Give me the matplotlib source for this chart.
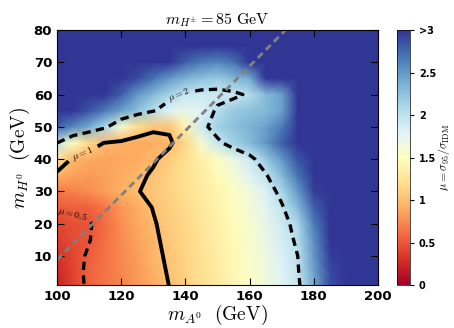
import numpy as np
import matplotlib
matplotlib.use('Agg')
import matplotlib.pyplot as plt

plt.rcParams['mathtext.fontset'] = 'cm'
plt.rcParams['lines.dashed_pattern'] = [2.5, 1.6]

# scan grid (GeV)
m_A0 = [100, 105, 110, 115, 120, 125, 130, 135, 140, 145, 150,
        155, 160, 165, 170, 175, 180, 185, 190, 195, 200]
m_H0 = [0, 5, 10, 15, 20, 25, 30, 35, 40, 45, 50, 55, 60, 65, 70, 75, 80]

# mu = sigma_95/sigma_IDM, one row per m_H0 value (3.5 = beyond the >3 end)
mu_00 = [0.20, 0.38, 0.55, 0.63, 0.70, 0.80, 0.90, 1.00, 1.10, 1.20, 1.30, 1.42, 1.52, 1.63, 1.78, 1.93, 2.40, 2.85, 3.30, 3.50, 3.50]
mu_05 = [0.25, 0.40, 0.56, 0.64, 0.72, 0.82, 0.92, 1.02, 1.12, 1.22, 1.32, 1.43, 1.54, 1.65, 1.80, 1.97, 2.45, 2.90, 3.30, 3.50, 3.50]
mu_10 = [0.30, 0.42, 0.53, 0.63, 0.73, 0.83, 0.94, 1.04, 1.13, 1.23, 1.33, 1.44, 1.55, 1.67, 1.82, 2.00, 2.50, 2.95, 3.40, 3.50, 3.50]
mu_15 = [0.36, 0.44, 0.49, 0.62, 0.74, 0.85, 0.96, 1.06, 1.14, 1.24, 1.34, 1.45, 1.56, 1.69, 1.86, 2.05, 2.55, 3.00, 3.40, 3.50, 3.50]
mu_20 = [0.42, 0.46, 0.48, 0.60, 0.75, 0.87, 0.98, 1.08, 1.16, 1.26, 1.36, 1.47, 1.58, 1.72, 1.90, 2.10, 2.65, 3.10, 3.50, 3.50, 3.50]
mu_25 = [0.52, 0.53, 0.55, 0.65, 0.80, 0.90, 1.01, 1.10, 1.18, 1.28, 1.38, 1.49, 1.61, 1.76, 1.96, 2.30, 2.80, 3.20, 3.50, 3.50, 3.50]
mu_30 = [0.65, 0.70, 0.76, 0.83, 0.92, 0.99, 1.05, 1.12, 1.20, 1.30, 1.40, 1.52, 1.65, 1.82, 2.10, 2.50, 2.95, 3.30, 3.50, 3.50, 3.50]
mu_35 = [0.93, 0.85, 0.82, 0.85, 0.90, 0.95, 1.03, 1.12, 1.22, 1.33, 1.45, 1.60, 1.77, 1.97, 2.30, 2.70, 3.10, 3.50, 3.50, 3.50, 3.50]
mu_40 = [1.25, 0.96, 0.88, 0.86, 0.87, 0.90, 0.97, 1.08, 1.20, 1.35, 1.52, 1.70, 1.90, 2.20, 2.50, 2.85, 3.30, 3.50, 3.50, 3.50, 3.50]
mu_45 = [2.00, 1.50, 1.15, 0.98, 0.92, 0.88, 0.90, 0.96, 1.15, 1.60, 1.93, 2.15, 2.30, 2.50, 2.80, 3.40, 3.50, 3.50, 3.50, 3.50, 3.50]
mu_50 = [2.80, 2.60, 2.40, 2.08, 1.60, 1.20, 1.05, 1.04, 1.40, 1.90, 2.15, 2.25, 2.35, 2.45, 2.65, 3.50, 3.50, 3.50, 3.50, 3.50, 3.50]
mu_55 = [3.10, 3.00, 2.85, 2.65, 2.45, 2.25, 2.03, 1.80, 1.70, 1.80, 2.05, 2.20, 2.25, 2.30, 2.45, 3.50, 3.50, 3.50, 3.50, 3.50, 3.50]
mu_60 = [3.40, 3.30, 3.20, 3.00, 2.80, 2.50, 2.30, 2.12, 1.95, 1.90, 1.90, 1.93, 2.05, 2.30, 2.45, 3.50, 3.50, 3.50, 3.50, 3.50, 3.50]
mu_65 = [3.50, 3.50, 3.40, 3.30, 3.15, 2.90, 2.70, 2.50, 2.35, 2.25, 2.20, 2.30, 2.40, 3.30, 3.50, 3.50, 3.50, 3.50, 3.50, 3.50, 3.50]
mu_70 = [3.50, 3.50, 3.50, 3.50, 3.50, 3.50, 3.30, 3.00, 2.80, 2.65, 2.60, 2.70, 3.20, 3.50, 3.50, 3.50, 3.50, 3.50, 3.50, 3.50, 3.50]
mu_75 = [3.50, 3.50, 3.50, 3.50, 3.50, 3.50, 3.50, 3.50, 3.30, 3.10, 3.00, 3.10, 3.50, 3.50, 3.50, 3.50, 3.50, 3.50, 3.50, 3.50, 3.50]
mu_80 = [3.50] * 21

mu_levels = [0.5, 1, 2]
mu_fmt = {0.5: r'$\mu=0.5$', 1: r'$\mu=1$', 2: r'$\mu=2$'}
cbar_ticks = [0, 0.5, 1, 1.5, 2, 2.5, 3]
cbar_labels = ['0', '0.5', '1', '1.5', '2', '2.5', '>3']
m_Hpm = 85
m_Z = 91.19

mu = np.array([mu_00, mu_05, mu_10, mu_15, mu_20, mu_25, mu_30, mu_35, mu_40,
               mu_45, mu_50, mu_55, mu_60, mu_65, mu_70, mu_75, mu_80])
X, Y = np.meshgrid(m_A0, m_H0)

fig = plt.figure(figsize=(4.54, 3.28), dpi=100)
ax = fig.add_axes([0.1256, 0.1311, 0.707, 0.7774])
cax = fig.add_axes([0.8744, 0.1311, 0.0286, 0.7774])

pc = ax.pcolormesh(X, Y, mu, shading='gouraud', cmap='RdYlBu', vmin=0, vmax=3)
cs = ax.contour(X, Y, mu, levels=mu_levels, colors='k',
                linestyles=['--', '-', '--'], linewidths=[2.4, 2.8, 2.4])
ax.clabel(cs, fmt=mu_fmt, fontsize=7, inline=True,
          manual=[(105.5, 25.5), (108, 42), (138, 60)])

# A0 -> H0 Z threshold
xl = np.array([m_A0[0], m_Z + m_H0[-1]])
ax.plot(xl, xl - m_Z, ls='--', color='#808080', lw=2)

ax.set_xlim(100, 200)
ax.set_ylim(1, 80)
ax.set_xticks([100, 120, 140, 160, 180, 200])
ax.set_yticks([10, 20, 30, 40, 50, 60, 70, 80])
ax.tick_params(direction='in', length=5, top=True, right=True, labelsize=9.5)
for t in ax.get_xticklabels() + ax.get_yticklabels():
    t.set_fontweight('bold')
ax.set_xlabel(r'$m_{A^0}\ \ \mathrm{(GeV)}$', fontsize=14, labelpad=0)
ax.set_ylabel(r'$m_{H^0}\ \ \mathrm{(GeV)}$', fontsize=14, labelpad=1)
ax.set_title(r'$m_{H^{\pm}}=85\ \mathrm{GeV}$', fontsize=11.5, pad=4)

cb = fig.colorbar(pc, cax=cax, ticks=cbar_ticks)
cb.ax.set_yticklabels(cbar_labels, fontweight='bold', fontsize=7)
cb.ax.tick_params(length=3, width=0.8)
cb.outline.set_linewidth(0.5)
cb.set_label(r'$\mu=\sigma_{95}/\sigma_{\rm IDM}$', fontsize=8.5, labelpad=0)

fig.savefig('out.png', dpi=100)
